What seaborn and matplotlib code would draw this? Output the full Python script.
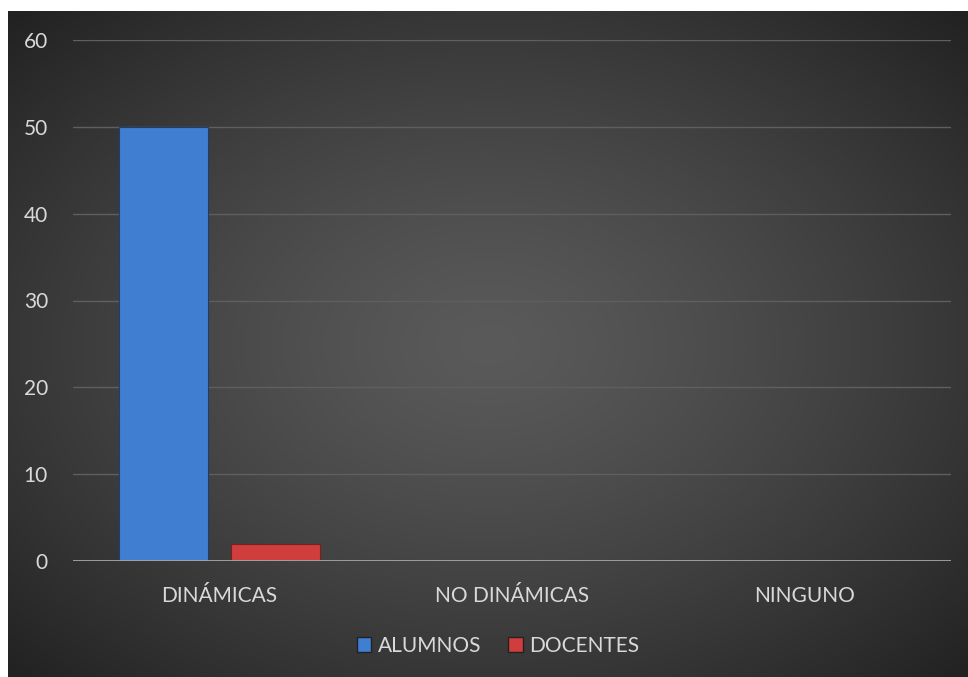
import numpy as np
import pandas as pd
import matplotlib.pyplot as plt
import seaborn as sns

# data
categorias = ["DINÁMICAS", "NO DINÁMICAS", "NINGUNO"]
alumnos = [50, 0, 0]
docentes = [2, 0, 0]
series = ["ALUMNOS", "DOCENTES"]

df = pd.DataFrame({
    "categoria": categorias * 2,
    "grupo": [series[0]] * 3 + [series[1]] * 3,
    "valor": alumnos + docentes,
})

sns.set_theme(style="dark")
plt.rcParams['font.family'] = ['Lato', 'DejaVu Sans']

txt = "#d9d9d9"
colores = {"ALUMNOS": "#3f7ed0", "DOCENTES": "#cf3d3d"}

fig = plt.figure(figsize=(9.68, 6.77), dpi=100)
fig.patch.set_facecolor("white")

# radial gradient background
bg = fig.add_axes([8 / 968, 0, 1 - 8 / 968, 1 - 11 / 677])
yy, xx = np.mgrid[0:300, 0:430]
cx, cy = 215, 150
r = np.sqrt(((xx - cx) / 430) ** 2 + ((yy - cy) / 300) ** 2) / 0.72
g = np.clip(90 - 58 * r ** 1.3, 34, 90) / 255
bg.imshow(np.dstack([g, g, g]), aspect="auto", extent=[0, 1, 0, 1])
bg.axis("off")

ax = fig.add_axes([73 / 968, 1 - 561 / 677, 878 / 968, 521 / 677])
ax.patch.set_alpha(0)
sns.barplot(data=df, x="categoria", y="valor", hue="grupo", palette=colores,
            saturation=1, width=0.765, gap=0.205, ax=ax, edgecolor="#1f3f6a",
            linewidth=0.8, legend=False)
for p in ax.patches:
    if p.get_facecolor()[0] > 0.6:
        p.set_edgecolor("#7a1f1f")

ax.set_ylim(0, 60)
ax.set_xlim(-0.5, 2.5)
ax.set_yticks(range(0, 61, 10))
ax.yaxis.grid(True, color="#5f5f5f", linewidth=1)
ax.xaxis.grid(False)
ax.axhline(0, color="#a6a6a6", linewidth=2, zorder=5)
for s in ax.spines.values():
    s.set_visible(False)
ax.tick_params(axis="y", colors=txt, labelsize=15, length=0, pad=18)
ax.tick_params(axis="x", colors=txt, labelsize=15, length=0, pad=18)
ax.set_xlabel("")
ax.set_ylabel("")

# legend
handles = [plt.Rectangle((0, 0), 1, 1, facecolor=colores[s], edgecolor="#222222") for s in series]
fig.legend(handles, series, loc="center", bbox_to_anchor=(498 / 968, 1 - 646 / 677),
           ncol=2, frameon=False, fontsize=15, labelcolor=txt, handlelength=0.7,
           handleheight=0.7, handletextpad=0.3, columnspacing=1.3)

plt.savefig("out.png", dpi=100)
